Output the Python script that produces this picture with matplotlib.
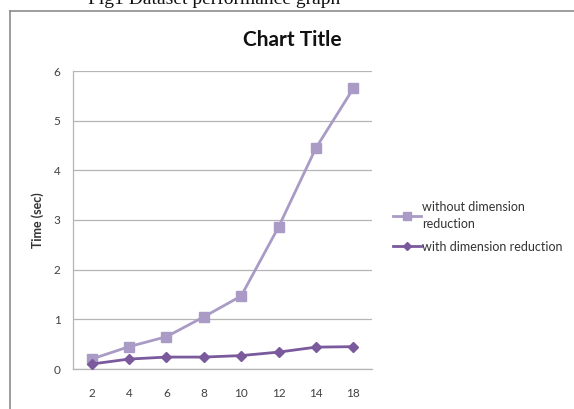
import matplotlib
matplotlib.use("Agg")
import matplotlib.pyplot as plt
from matplotlib.lines import Line2D

categories = ["2", "4", "6", "8", "10", "12", "14", "18"]
without_reduction = [0.2, 0.45, 0.65, 1.05, 1.47, 2.86, 4.45, 5.65]
with_reduction = [0.1, 0.2, 0.24, 0.24, 0.27, 0.34, 0.44, 0.45]
y_ticks = [0, 1, 2, 3, 4, 5, 6]

W, H = 574, 409
FONT = "Lato"
fig = plt.figure(figsize=(W / 100, H / 100), dpi=100)
fig.patch.set_facecolor("white")

# figure caption (top partly clipped) and the chart frame
fig.text(214 / W, 1 - 4 / H, "Fig1 Dataset performance graph",
         family="Liberation Serif", fontsize=14, ha="center", va="baseline",
         color="#111111")
fig.add_artist(Line2D([10 / W, 1.0], [1 - 11 / H, 1 - 11 / H],
                      transform=fig.transFigure, color="#8c8c8c", lw=1.2))
fig.add_artist(Line2D([10 / W, 10 / W], [1 - 11 / H, 0.0],
                      transform=fig.transFigure, color="#8c8c8c", lw=1.2))

ax = fig.add_axes([73 / W, 1 - 369 / H, (372 - 73) / W, (369 - 71) / H])
x = list(range(len(categories)))

light = "#a99bc6"
dark = "#7a5a9c"
ax.plot(x, without_reduction, color=light, lw=2.0, marker="s", ms=7,
        mec=light, mfc=light, label="without dimension\nreduction", zorder=3)
ax.plot(x, with_reduction, color=dark, lw=2.0, marker="D", ms=5.5,
        mec=dark, mfc=dark, label="with dimension reduction", zorder=4)

ax.set_xlim(-0.5, len(categories) - 0.5)
ax.set_ylim(0, 6)
ax.set_yticks(y_ticks)
ax.set_xticks(x)
ax.set_xticklabels(categories)
ax.yaxis.grid(True, color="#b5b5b5", lw=0.9)
ax.set_axisbelow(True)
for s in ["top", "right"]:
    ax.spines[s].set_visible(False)
for s in ["left", "bottom"]:
    ax.spines[s].set_color("#b5b5b5")
    ax.spines[s].set_linewidth(0.9)
ax.tick_params(axis="both", length=0, labelsize=8.5, colors="#404040",
               labelfontfamily=FONT)
ax.tick_params(axis="y", pad=9)
ax.tick_params(axis="x", pad=14)

ax.set_ylabel("Time (sec)", family=FONT, fontsize=9,
              fontweight="bold", color="#333333", labelpad=7)

fig.text(292 / W, 1 - 40 / H, "Chart Title", family=FONT,
         fontsize=15, fontweight="bold", ha="center", va="center",
         color="#111111")

leg = fig.legend(loc="upper left", bbox_to_anchor=(388 / W, 1 - 196 / H),
                 frameon=False, prop={"family": FONT, "size": 9},
                 handlelength=2.2, handletextpad=0.15, labelspacing=0.9,
                 markerscale=0.75, borderaxespad=0)
for t in leg.get_texts():
    t.set_color("#333333")
    t.set_linespacing(1.45)

fig.savefig("out.png", dpi=100, facecolor="white")
